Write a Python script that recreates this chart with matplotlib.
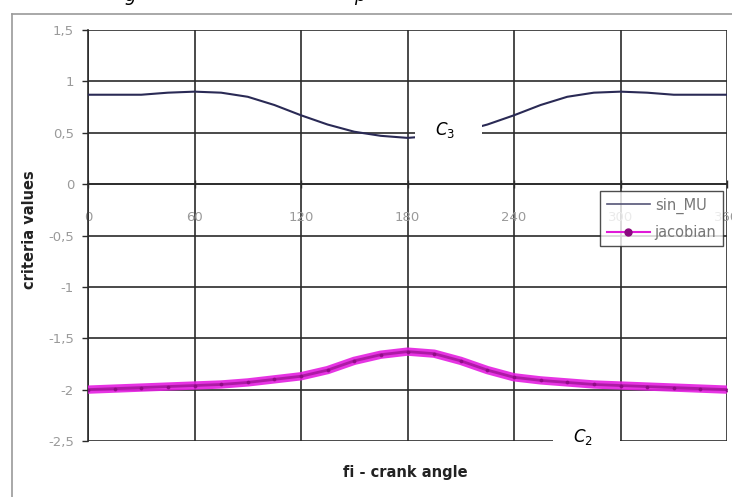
import matplotlib
matplotlib.use("Agg")
import matplotlib.pyplot as plt
from matplotlib.patches import Rectangle
from matplotlib.lines import Line2D

# ---- data ----
angles = [0, 15, 30, 45, 60, 75, 90, 105, 120, 135, 150, 165, 180,
          195, 210, 225, 240, 255, 270, 285, 300, 315, 330, 345, 360]
sin_mu = [0.87, 0.87, 0.87, 0.89, 0.90, 0.89, 0.85, 0.77, 0.67, 0.58, 0.51, 0.47, 0.45,
          0.47, 0.51, 0.58, 0.67, 0.77, 0.85, 0.89, 0.90, 0.89, 0.87, 0.87, 0.87]
jacobian = [-2.00, -1.99, -1.98, -1.97, -1.96, -1.95, -1.93, -1.90, -1.87, -1.81, -1.72, -1.66, -1.63,
            -1.65, -1.72, -1.81, -1.88, -1.91, -1.93, -1.95, -1.96, -1.97, -1.98, -1.99, -2.00]
x_ticks = [0, 60, 120, 180, 240, 300, 360]
x_tick_labels = ["0", "60", "120", "180", "240", "300", "360"]
y_ticks = [-2.5, -2.0, -1.5, -1.0, -0.5, 0.0, 0.5, 1.0, 1.5]
y_tick_labels = ["-2,5", "-2", "-1,5", "-1", "-0,5", "0", "0,5", "1", "1,5"]
series_names = ["sin_MU", "jacobian"]

W, H = 732, 497
fig = plt.figure(figsize=(W / 100, H / 100), dpi=100)
fig.patch.set_facecolor("white")

# outer chart frame (partially visible)
fig.add_artist(Line2D([12 / W, 12 / W], [0, 1 - 14 / H], color="#9a9a9a", lw=1.2))
fig.add_artist(Line2D([12 / W, 1], [1 - 14 / H, 1 - 14 / H], color="#9a9a9a", lw=1.2))

ax = fig.add_axes([88 / W, 1 - 441 / H, (727 - 88) / W, (441 - 30) / H])
ax.set_xlim(0, 360)
ax.set_ylim(-2.5, 1.5)

ax.plot(angles, sin_mu, color="#2a2a55", lw=1.5, zorder=3, label=series_names[0])
ax.plot(angles, jacobian, color="#e41ee0", lw=6, zorder=3, solid_capstyle="butt", alpha=0.9)
ax.plot(angles, jacobian, color="#9a1290", lw=2.0, marker="o", ms=1.8,
        markerfacecolor="#8a0a80", markeredgecolor="#8a0a80", zorder=4, alpha=0.75)

ax.set_yticks(y_ticks)
ax.set_yticklabels(y_tick_labels)
ax.set_xticks(x_ticks)
ax.set_xticklabels(x_tick_labels)
ax.grid(True, color="#2b2b2b", lw=1.2, zorder=1)
ax.set_axisbelow(True)

for s in ["top", "right"]:
    ax.spines[s].set_visible(False)
ax.spines["left"].set_color("#2b2b2b")
ax.spines["left"].set_linewidth(1.2)
ax.spines["bottom"].set_position(("data", 0))
ax.spines["bottom"].set_color("#2b2b2b")
ax.spines["bottom"].set_linewidth(1.2)

ax.tick_params(axis="y", direction="out", length=4, width=1, color="#2b2b2b",
               labelsize=9.5, labelcolor="#9a9a9a", pad=6)
ax.tick_params(axis="x", direction="inout", length=6, width=1, color="#2b2b2b",
               labelsize=9.5, labelcolor="#9a9a9a", pad=16)

fig.text(30 / W, 1 - 230 / H, "criteria values", rotation=90, ha="center", va="center",
         fontsize=10.5, fontweight="bold", color="#222222")
fig.text(405 / W, 1 - 472 / H, "fi - crank angle", ha="center", va="center",
         fontsize=10.5, fontweight="bold", color="#222222")

handles = [Line2D([], [], color="#555577", lw=1.2),
           Line2D([], [], color="#e01ad8", lw=1.5, marker="o", ms=5,
                  markerfacecolor="#8a0a80", markeredgecolor="#8a0a80")]
leg = fig.legend(handles, series_names, loc="upper right",
                 bbox_to_anchor=(723 / W, 1 - 191 / H), frameon=True, fancybox=False,
                 fontsize=10.5, handlelength=3.0, borderpad=0.45, labelspacing=0.75,
                 handletextpad=0.3, borderaxespad=0)
leg.get_frame().set_edgecolor("#222222")
leg.get_frame().set_linewidth(1.0)
for t in leg.get_texts():
    t.set_color("#777777")

# white annotation boxes with labels
fig.add_artist(Rectangle((415 / W, 1 - 155 / H), 67 / W, 55 / H, facecolor="white",
                         edgecolor="none", transform=fig.transFigure, zorder=10))
fig.text(445 / W, 1 - 130 / H, r"$\mathit{C}_3$", ha="center", va="center",
         fontsize=12, zorder=11, color="black")
fig.add_artist(Rectangle((553 / W, 1 - 448 / H), 67 / W, 40 / H, facecolor="white",
                         edgecolor="none", transform=fig.transFigure, zorder=10))
fig.text(583 / W, 1 - 437 / H, r"$\mathit{C}_2$", ha="center", va="center",
         fontsize=12, zorder=11, color="black")

# partially cut caption above the chart
fig.text(130 / W, 1 + 4 / H, "g", ha="center", va="center", fontsize=13,
         style="italic", color="black")
fig.text(360 / W, 1 + 4 / H, "p", ha="center", va="center", fontsize=13,
         style="italic", color="black")

fig.savefig("out.png", dpi=100)
